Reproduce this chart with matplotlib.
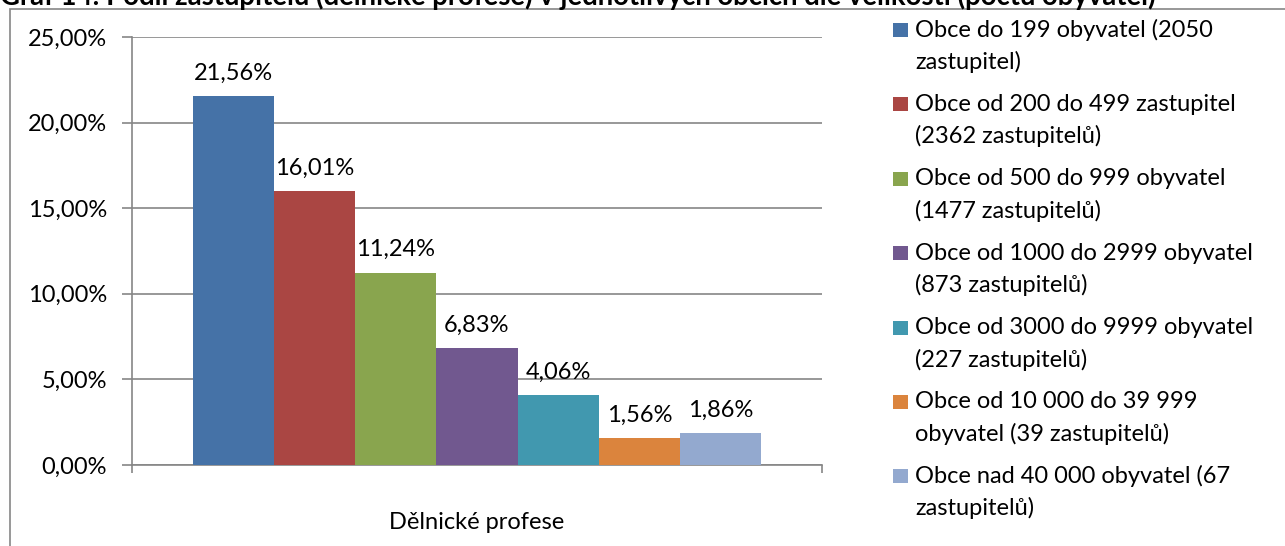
import matplotlib
matplotlib.use("Agg")
import matplotlib.pyplot as plt
from matplotlib.patches import Rectangle
from matplotlib.ticker import FuncFormatter

title = "Graf 14: Podíl zastupitelů (dělnické profese) v jednotlivých obcích dle velikosti (počtu obyvatel)"
category = "Dělnické profese"
series_labels = [
    "Obce do 199 obyvatel (2050\nzastupitel)",
    "Obce od 200 do 499 zastupitel\n(2362 zastupitelů)",
    "Obce od 500 do 999 obyvatel\n(1477 zastupitelů)",
    "Obce od 1000 do 2999 obyvatel\n(873 zastupitelů)",
    "Obce od 3000 do 9999 obyvatel\n(227 zastupitelů)",
    "Obce od 10 000 do 39 999\nobyvatel (39 zastupitelů)",
    "Obce nad 40 000 obyvatel (67\nzastupitelů)",
]
values = [21.56, 16.01, 11.24, 6.83, 4.06, 1.56, 1.86]
colors = ["#4572A7", "#AA4643", "#89A54E", "#71588F", "#4198AF", "#DB843D", "#93A9CF"]
yticks = [0, 5, 10, 15, 20, 25]

FONT = "Lato"
FS = 17
W, H = 1285, 546
fig = plt.figure(figsize=(W / 100, H / 100), dpi=100)
plt.rcParams['font.family'] = [FONT, 'DejaVu Sans']

def px(x, y):
    return x / W, 1 - y / H

ax = fig.add_axes([132 / W, 1 - 465 / H, (822 - 132) / W, (465 - 37) / H])

n = len(values)
bw = 1.0 / (n + 1.5)
for i, (v, c, lab) in enumerate(zip(values, colors, series_labels)):
    xpos = (i - (n - 1) / 2) * bw
    ax.bar(xpos, v, width=bw, color=c, zorder=3, linewidth=0)
    ax.annotate(f"{v:.2f}%".replace('.', ','), (xpos, v), xytext=(0, 9),
                textcoords="offset points", ha="center", va="bottom",
                fontsize=FS, color="black")

ax.set_xlim(-0.5, 0.5)
ax.set_ylim(0, 25)
ax.set_yticks(yticks)
ax.yaxis.set_major_formatter(FuncFormatter(lambda v, p: f"{v:.2f}%".replace('.', ',')))
ax.grid(axis="y", color="#868686", linewidth=1.2, zorder=0)
for s in ["top", "right"]:
    ax.spines[s].set_visible(False)
for s in ["left", "bottom"]:
    ax.spines[s].set_color("#868686")
    ax.spines[s].set_linewidth(1.2)
ax.tick_params(axis="y", direction="out", length=7, width=1.2, color="#868686",
               labelsize=FS, pad=11)
ax.set_xticks([-0.5, 0.5])
ax.set_xticklabels(["", ""])
ax.tick_params(axis="x", which="major", direction="out", length=6, width=1.2, color="#868686")
ax.set_xticks([0], minor=True)
ax.set_xticklabels([category], minor=True)
ax.tick_params(axis="x", which="minor", length=0, labelsize=FS, pad=34)

# chart border
fig.add_artist(Rectangle(px(10, 560), (W + 10) / W, 551 / H, transform=fig.transFigure,
                         fill=False, edgecolor="#868686", linewidth=1.2))

# title (cut off at top as in the reference)
fig.text(0.0, 1 - 5 / H, title, fontsize=19.8, fontweight="bold", ha="left", va="baseline")

# legend
for i, (lab, c) in enumerate(zip(series_labels, colors)):
    yc = 30 + i * 74.4
    x0, y0 = px(893, yc + 7)
    fig.add_artist(Rectangle((x0, y0), 15 / W, 14 / H, transform=fig.transFigure,
                             facecolor=c, edgecolor="none"))
    for j, line in enumerate(lab.split("\n")):
        tx, ty = px(915, yc + j * 32)
        fig.text(tx, ty, line, fontsize=FS, ha="left", va="center")

fig.savefig("out.png", dpi=100)
